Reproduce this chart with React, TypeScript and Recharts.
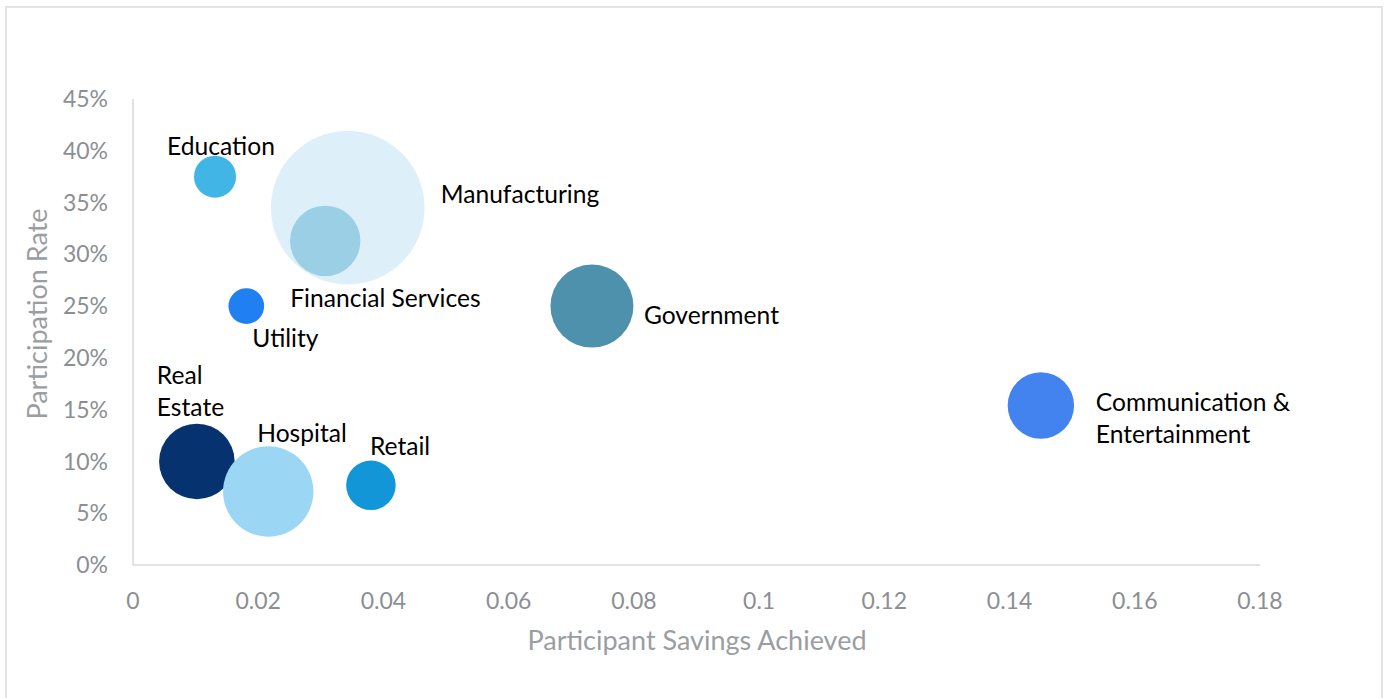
import { ScatterChart, Scatter, XAxis, YAxis, ZAxis, Label } from 'recharts'

const sectors = [
  'Education',
  'Manufacturing',
  'Financial Services',
  'Utility',
  'Government',
  'Communication & Entertainment',
  'Real Estate',
  'Hospital',
  'Retail',
]
const savingsAchieved = [0.0131, 0.0343, 0.0307, 0.0181, 0.0733, 0.145, 0.0102, 0.0216, 0.038]
const participationRate = [0.375, 0.345, 0.313, 0.25, 0.25, 0.154, 0.1, 0.071, 0.077]
const bubbleSize = [7.5, 100, 21, 5.4, 29.2, 18.7, 24.2, 34.6, 10.4]
const xTicks = [0, 0.02, 0.04, 0.06, 0.08, 0.1, 0.12, 0.14, 0.16, 0.18]
const yTicks = [0, 0.05, 0.1, 0.15, 0.2, 0.25, 0.3, 0.35, 0.4, 0.45]

const colors: Record<string, string> = {
  Education: '#41b6e6',
  Manufacturing: '#ddeff9',
  'Financial Services': '#9acfe5',
  Utility: '#2080f2',
  Government: '#4e91ad',
  'Communication & Entertainment': '#4283ef',
  'Real Estate': '#06336f',
  Hospital: '#9bd6f5',
  Retail: '#1396d8',
}

// label placement relative to bubble centre (baseline of first line)
const labelPlace: Record<string, { lines: string[]; dx: number; dy: number; anchor: string }> = {
  Education: { lines: ['Education'], dx: 6, dy: -22, anchor: 'middle' },
  Manufacturing: { lines: ['Manufacturing'], dx: 93, dy: -5, anchor: 'start' },
  'Financial Services': { lines: ['Financial Services'], dx: -35, dy: 66, anchor: 'start' },
  Utility: { lines: ['Utility'], dx: 6, dy: 41, anchor: 'start' },
  Government: { lines: ['Government'], dx: 52, dy: 18, anchor: 'start' },
  'Communication & Entertainment': { lines: ['Communication &', 'Entertainment'], dx: 55, dy: 5, anchor: 'start' },
  'Real Estate': { lines: ['Real', 'Estate'], dx: -40, dy: -77, anchor: 'start' },
  Hospital: { lines: ['Hospital'], dx: -11, dy: -49, anchor: 'start' },
  Retail: { lines: ['Retail'], dx: -1, dy: -30, anchor: 'start' },
}

const data = sectors.map((name, i) => ({
  name,
  x: savingsAchieved[i],
  y: participationRate[i],
  z: bubbleSize[i],
}))

const FONT = 'Lato, sans-serif'
const MAX_R = 76.8

function Bubble(props: any) {
  const { cx, cy, payload } = props
  const r = props.size != null ? Math.sqrt(props.size / Math.PI) : props.width / 2
  return <circle cx={cx} cy={cy} r={r} fill={colors[payload.name]} />
}

function BubbleLabel(props: any) {
  const { cx, cy, payload } = props
  const p = labelPlace[payload.name]
  return (
    <text x={cx + p.dx} y={cy + p.dy} textAnchor={p.anchor} fontFamily={FONT} fontSize={24.6} fill="#000">
      {p.lines.map((l, i) => (
        <tspan key={i} x={cx + p.dx} dy={i === 0 ? 0 : 32}>{l}</tspan>
      ))}
    </text>
  )
}

export default function App() {
  return (
    <div style={{ position: 'absolute', left: 0, top: 0, width: 1390, height: 698, background: '#fff', overflow: 'hidden' }}>
      <div style={{
        position: 'absolute', left: 5, top: 6, width: 1374, height: 720,
        border: '2px solid #e3e3e3',
      }} />
      <div style={{ position: 'absolute', left: 0, top: 0 }}>
        <ScatterChart width={1390} height={698} margin={{ top: 99, right: 130, bottom: 0, left: 0 }}>
          <XAxis
            type="number"
            dataKey="x"
            domain={[0, 0.18]}
            ticks={xTicks}
            tickFormatter={v => `${+v.toFixed(2)}`}
            height={133}
            tickSize={0}
            tickMargin={28}
            axisLine={{ stroke: '#d9d9d9', strokeWidth: 1.5 }}
            tick={{ fontSize: 23, fill: '#8b8f94', fontFamily: FONT }}
            interval={0}
          >
            <Label
              content={() => (
                <text x={697} y={650} textAnchor="middle" fontFamily={FONT} fontSize={27} fill="#9a9ea3">
                  Participant Savings Achieved
                </text>
              )}
            />
          </XAxis>
          <YAxis
            type="number"
            dataKey="y"
            domain={[0, 0.45]}
            ticks={yTicks}
            tickFormatter={v => `${Math.round(v * 100)}%`}
            width={133}
            tickSize={0}
            tickMargin={25}
            axisLine={{ stroke: '#d9d9d9', strokeWidth: 1.5 }}
            tick={{ fontSize: 23, fill: '#8b8f94', fontFamily: FONT }}
            interval={0}
          >
            <Label
              content={() => (
                <text
                  x={47}
                  y={314}
                  transform="rotate(-90 47 314)"
                  textAnchor="middle"
                  fontFamily={FONT}
                  fontSize={27}
                  fill="#9a9ea3"
                >
                  Participation Rate
                </text>
              )}
            />
          </YAxis>
          <ZAxis type="number" dataKey="z" domain={[0, 100]} range={[0, Math.PI * MAX_R * MAX_R]} />
          <Scatter data={data} shape={<Bubble />} isAnimationActive={false} />
          <Scatter data={data} shape={<BubbleLabel />} isAnimationActive={false} />
        </ScatterChart>
      </div>
    </div>
  )
}
